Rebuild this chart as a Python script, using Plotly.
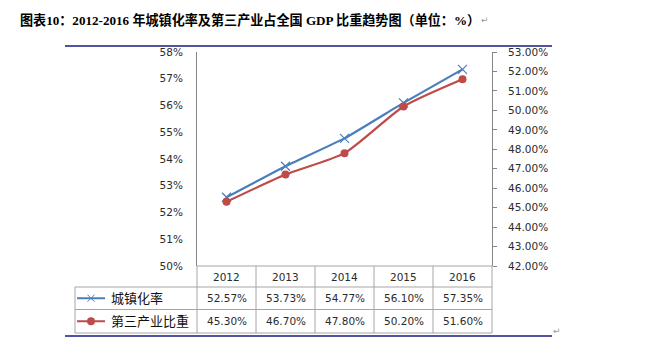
import plotly.graph_objects as go

# ---- data ----
years = ["2012", "2013", "2014", "2015", "2016"]
urbanization = [52.57, 53.73, 54.77, 56.10, 57.35]
tertiary_share = [45.30, 46.70, 47.80, 50.20, 51.60]
series_names = ["城镇化率", "第三产业比重"]
title_text = "图表10：2012-2016 年城镇化率及第三产业占全国 GDP 比重趋势图（单位：%）"

W, H = 662, 359
L, R, T, B = 197, 492, 52, 266  # plot area in pixels

def px(x):
    return (x - L) / (R - L)

def py(y):
    return (B - y) / (B - T)

BLUE = "#4A7EBB"
RED = "#BE4B48"
GRID = "#A6A6A6"
NAVY = "#1A1A80"
TXT = "#2b2b2b"
FONT = "DejaVu Sans"

fig = go.Figure()
fig.add_trace(go.Scatter(
    x=years, y=urbanization, name=series_names[0], mode="lines+markers",
    line=dict(color=BLUE, width=2.2, shape="spline", smoothing=0.3),
    marker=dict(symbol="x-thin", size=9, line=dict(color=BLUE, width=1.2)),
    yaxis="y"))
fig.add_trace(go.Scatter(
    x=years, y=tertiary_share, name=series_names[1], mode="lines+markers",
    line=dict(color=RED, width=2.2, shape="spline", smoothing=0.6),
    marker=dict(symbol="circle", size=8, color=RED),
    yaxis="y2"))

shapes = []
annotations = []

def hline(x0, x1, y, color=GRID, w=1):
    shapes.append(dict(type="line", xref="paper", yref="paper",
                       x0=px(x0), x1=px(x1), y0=py(y), y1=py(y),
                       line=dict(color=color, width=w)))

def vline(x, y0, y1, color=GRID, w=1):
    shapes.append(dict(type="line", xref="paper", yref="paper",
                       x0=px(x), x1=px(x), y0=py(y0), y1=py(y1),
                       line=dict(color=color, width=w)))

# table grid
row_y = [B, 287, 309.5, 333]
col_x = [L + i * (R - L) / len(years) for i in range(len(years) + 1)]
hline(L, R, B)
for y in row_y[1:]:
    hline(75, R, y)
vline(75, row_y[1], row_y[3])
for x in col_x:
    vline(x, B, row_y[3])

# document rules
hline(65, 552, 46, NAVY, 1.3)
hline(65, 552, 336, NAVY, 1.3)

centers_y = [(row_y[i] + row_y[i + 1]) / 2 for i in range(3)]
for i, yr in enumerate(years):
    annotations.append(dict(x=i, y=py(centers_y[0]), xref="x", yref="paper",
                            text=yr, showarrow=False, yanchor="middle",
                            font=dict(family=FONT, size=10.5, color=TXT)))
for r, vals in enumerate([urbanization, tertiary_share]):
    for i in range(len(years)):
        annotations.append(dict(x=i, y=py(centers_y[r + 1]), xref="x", yref="paper",
                                text=f"{vals[i]:.2f}%", showarrow=False, yanchor="middle",
                                font=dict(family=FONT, size=10.5, color=TXT)))
    annotations.append(dict(x=px(109), y=py(centers_y[r + 1] - 1), xref="paper", yref="paper",
                            xanchor="left", yanchor="middle", text=series_names[r], showarrow=False,
                            font=dict(family="Noto Sans CJK SC", size=13, color="#111")))

# legend symbols
ly1, ly2 = centers_y[1], centers_y[2]
shapes.append(dict(type="line", xref="paper", yref="paper", x0=px(77), x1=px(105),
                   y0=py(ly1), y1=py(ly1), line=dict(color=BLUE, width=2)))
shapes.append(dict(type="line", xref="paper", yref="paper", x0=px(87.5), x1=px(94.5),
                   y0=py(ly1 - 3.5), y1=py(ly1 + 3.5), line=dict(color=BLUE, width=1)))
shapes.append(dict(type="line", xref="paper", yref="paper", x0=px(87.5), x1=px(94.5),
                   y0=py(ly1 + 3.5), y1=py(ly1 - 3.5), line=dict(color=BLUE, width=1)))
shapes.append(dict(type="line", xref="paper", yref="paper", x0=px(77), x1=px(105),
                   y0=py(ly2), y1=py(ly2), line=dict(color=RED, width=2)))
shapes.append(dict(type="circle", xref="paper", yref="paper", x0=px(87), x1=px(95),
                   y0=py(ly2 - 4), y1=py(ly2 + 4), fillcolor=RED, line=dict(color=RED, width=0)))

# title
annotations.append(dict(x=px(18), y=py(20), xref="paper", yref="paper", xanchor="left",
                        yanchor="middle", showarrow=False,
                        text="<b>" + title_text + "</b>",
                        font=dict(family="Liberation Serif, Noto Sans CJK SC", size=13.1, color="#000")))
annotations.append(dict(x=px(479), y=py(20), xref="paper", yref="paper", xanchor="left",
                        yanchor="middle", showarrow=False, text="↵",
                        font=dict(family=FONT, size=9, color="#999")))
annotations.append(dict(x=px(551), y=py(331), xref="paper", yref="paper", xanchor="left",
                        yanchor="middle", showarrow=False, text="↵",
                        font=dict(family=FONT, size=9, color="#999")))

fig.update_layout(
    width=W, height=H,
    margin=dict(l=L, r=W - R, t=T, b=H - B, pad=0),
    paper_bgcolor="white", plot_bgcolor="white",
    showlegend=False,
    xaxis=dict(type="category", range=[-0.5, 4.5], showticklabels=False, showgrid=False,
               zeroline=False, showline=False, ticks=""),
    yaxis=dict(range=[50, 58], dtick=1, ticksuffix="%", tickformat="d", showgrid=False,
               zeroline=False, showline=True, linecolor="#868686", linewidth=1,
               ticks="", ticklabelstandoff=11,
               tickfont=dict(family=FONT, size=10.5, color=TXT)),
    yaxis2=dict(range=[42, 53], dtick=1, ticksuffix="%", tickformat=".2f", overlaying="y",
                side="right", showgrid=False, zeroline=False, showline=True,
                linecolor="#868686", linewidth=1, ticks="outside", ticklen=4,
                tickcolor="#868686", ticklabelstandoff=9,
                tickfont=dict(family=FONT, size=10.5, color=TXT)),
    shapes=shapes, annotations=annotations,
)

fig.write_html("out.html", config={"displayModeBar": False},
               post_script="document.body.style.margin='0px';document.body.style.overflow='hidden';")
